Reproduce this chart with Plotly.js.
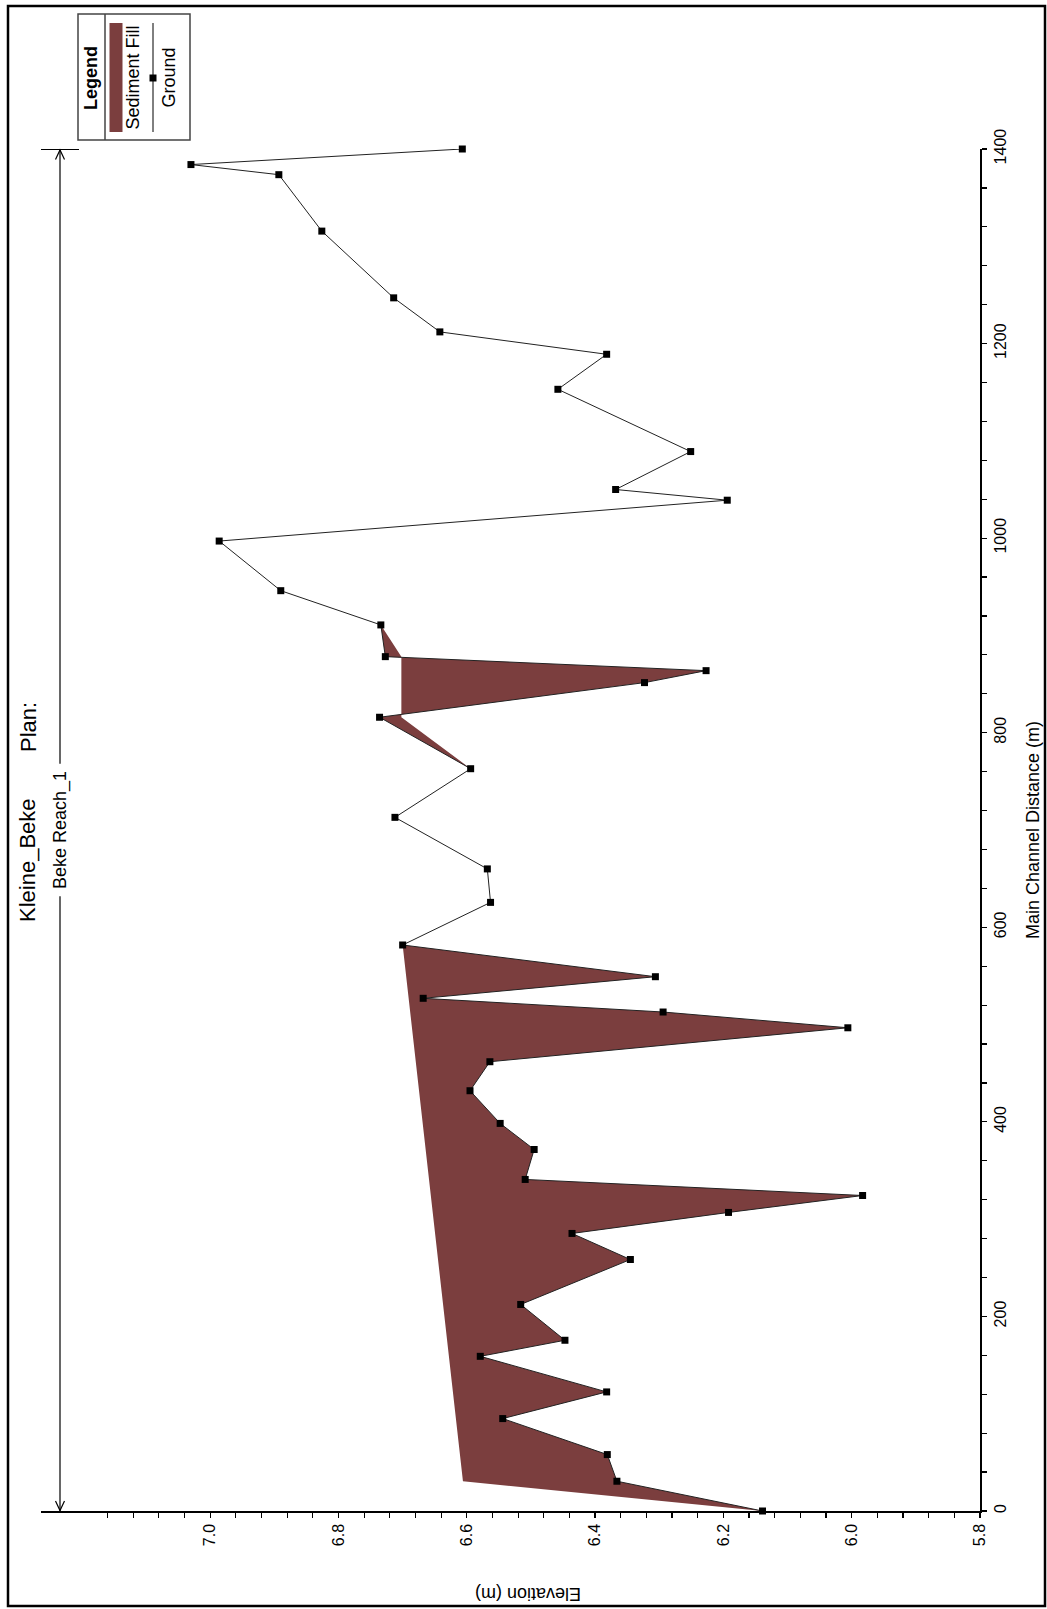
<!DOCTYPE html>
<html>
<head>
<meta charset="utf-8">
<script src="https://cdn.plot.ly/plotly-3.0.1.min.js"></script>
<style>
  html, body { margin: 0; padding: 0; background: #ffffff; }
  #chart { width: 1047px; height: 1609px; }
</style>
</head>
<body>
<div id="chart"></div>
<script>
// ---------------- DATA ----------------
// Main channel distance (m) of each cross section
const distance = [0, 30.6, 58, 95, 122.4, 159, 175.5, 212.3, 258.5, 285.3,
  306.9, 324.3, 340.8, 371.6, 398.4, 432, 461.8, 496.7, 512.9, 527,
  549.2, 581.8, 625.6, 660, 713, 763, 815.9, 851.5, 863.8, 878.2,
  910.8, 946, 997, 1039, 1050, 1089, 1153, 1189, 1212, 1247,
  1315.6, 1373.6, 1384, 1400];
// Ground (channel invert) elevation (m)
const groundElev = [6.139, 6.366, 6.381, 6.544, 6.382, 6.579, 6.447, 6.516, 6.345, 6.436,
  6.192, 5.983, 6.509, 6.495, 6.548, 6.595, 6.564, 6.006, 6.294, 6.668,
  6.306, 6.700, 6.563, 6.568, 6.712, 6.594, 6.736, 6.323, 6.227, 6.727,
  6.734, 6.890, 6.986, 6.194, 6.368, 6.251, 6.458, 6.382, 6.642, 6.714,
  6.826, 6.893, 7.030, 6.607];
// Top of the sediment fill (new bed), first deposit reach
const bedDist1 = [0, 30.6, 581.8];
const bedElev1 = [6.139, 6.606, 6.700];
// Top of the sediment fill (new bed), second deposit reach
const bedDist2 = [763, 815.9, 878.2, 910.8];
const bedElev2 = [6.594, 6.702, 6.702, 6.734];

// Axis ticks
const elevTicks = [7.0, 6.8, 6.6, 6.4, 6.2, 6.0, 5.8];
const elevTickText = ['7.0', '6.8', '6.6', '6.4', '6.2', '6.0', '5.8'];
const distTicks = [0, 200, 400, 600, 800, 1000, 1200, 1400];
const distTickText = ['0', '200', '400', '600', '800', '1000', '1200', '1400'];

// Text
const titleText = 'Kleine_Beke';
const planText = 'Plan:';
const reachName = 'Beke Reach_1';
const reachStart = 0;
const reachEnd = 1400;
const xTitle = 'Elevation (m)';
const yTitle = 'Main Channel Distance (m)';
const legendTitle = 'Legend';
const fillName = 'Sediment Fill';
const groundName = 'Ground';

// ---------------- LAYOUT GEOMETRY ----------------
const W = 1047, H = 1609;
const M = { l: 41, r: 67, t: 149, b: 98 };
const PW = W - M.l - M.r, PH = H - M.t - M.b;
const px = x => (x - M.l) / PW;          // pixel x -> paper x
const py = y => 1 - (y - M.t) / PH;      // pixel y -> paper y
const FONT = 'Liberation Sans, Arial, Helvetica, sans-serif';
const FILL = '#7b3e3e';

// minor elevation ticks
const elevMinor = [];
for (let i = 0; i <= 33; i++) elevMinor.push(+(7.16 - i * 0.04).toFixed(2));

// build fill polygons between the new bed line and the ground line
function fillPoly(bd, be) {
  const lo = bd[0] - 0.01, hi = bd[bd.length - 1] + 0.01;
  const gx = [], gy = [];
  for (let i = 0; i < distance.length; i++) {
    if (distance[i] >= lo && distance[i] <= hi) { gx.push(groundElev[i]); gy.push(distance[i]); }
  }
  return { x: be.concat(gx.reverse()), y: bd.concat(gy.reverse()) };
}
const p1 = fillPoly(bedDist1, bedElev1);
const p2 = fillPoly(bedDist2, bedElev2);

const traces = [
  { type: 'scatter', x: p1.x, y: p1.y, mode: 'lines', fill: 'toself', fillcolor: FILL,
    line: { width: 0, color: FILL }, hoverinfo: 'skip', showlegend: false },
  { type: 'scatter', x: p2.x, y: p2.y, mode: 'lines', fill: 'toself', fillcolor: FILL,
    line: { width: 0, color: FILL }, hoverinfo: 'skip', showlegend: false },
  { type: 'scatter', x: groundElev, y: distance, mode: 'lines+markers', name: groundName,
    line: { color: '#222222', width: 1 }, cliponaxis: false,
    marker: { symbol: 'square', size: 7, color: '#000' }, showlegend: false }
];

const gapHalf = 68; // gap around reach label (data units)
const reachMid = (reachStart + reachEnd) / 2;
const ax = px(60);
const shapes = [
  // outer frame
  { type: 'rect', xref: 'paper', yref: 'paper', x0: px(8), x1: px(1045), y0: py(6), y1: py(1606),
    line: { color: '#000', width: 2.5 } },
  // reach arrow line (two segments, gap for label)
  { type: 'line', xref: 'paper', yref: 'y', x0: ax, x1: ax, y0: reachStart, y1: reachMid - gapHalf,
    line: { color: '#000', width: 1.2 } },
  { type: 'line', xref: 'paper', yref: 'y', x0: ax, x1: ax, y0: reachMid + gapHalf, y1: reachEnd,
    line: { color: '#000', width: 1.2 } },
  // top cap
  { type: 'line', xref: 'paper', yref: 'paper', x0: px(41), x1: px(79), y0: py(149.5), y1: py(149.5),
    line: { color: '#000', width: 1.2 } },
  // top arrow head
  { type: 'path', xref: 'paper', yref: 'paper',
    path: `M ${px(55.5)} ${py(159.5)} L ${px(60)} ${py(150)} L ${px(64.5)} ${py(159.5)}`,
    line: { color: '#000', width: 1.2 } },
  // bottom arrow head
  { type: 'path', xref: 'paper', yref: 'paper',
    path: `M ${px(55.5)} ${py(1501)} L ${px(60)} ${py(1510.5)} L ${px(64.5)} ${py(1501)}`,
    line: { color: '#000', width: 1.2 } },
  // legend box
  { type: 'rect', xref: 'paper', yref: 'paper', x0: px(78), x1: px(190), y0: py(14), y1: py(140),
    line: { color: '#444', width: 1.5 } },
  { type: 'line', xref: 'paper', yref: 'paper', x0: px(105), x1: px(105), y0: py(14), y1: py(140),
    line: { color: '#444', width: 1.5 } },
  // legend swatch
  { type: 'rect', xref: 'paper', yref: 'paper', x0: px(109.5), x1: px(122.5), y0: py(23), y1: py(132),
    fillcolor: FILL, line: { width: 0 } },
  // legend ground line + marker
  { type: 'line', xref: 'paper', yref: 'paper', x0: px(153), x1: px(153), y0: py(23), y1: py(132),
    line: { color: '#000', width: 1 } },
  { type: 'rect', xref: 'paper', yref: 'paper', x0: px(149.5), x1: px(156.5), y0: py(74.5), y1: py(81.5),
    fillcolor: '#000', line: { width: 0 } }
];

const annotations = [
  { text: titleText, xref: 'paper', yref: 'paper', x: px(28), y: py(860), textangle: -90,
    showarrow: false, xanchor: 'center', yanchor: 'middle', font: { family: FONT, size: 22, color: '#000' } },
  { text: planText, xref: 'paper', yref: 'paper', x: px(28), y: py(727), textangle: -90,
    showarrow: false, xanchor: 'center', yanchor: 'middle', font: { family: FONT, size: 22, color: '#000' } },
  { text: reachName, xref: 'paper', yref: 'y', x: ax, y: reachMid, textangle: -90,
    showarrow: false, xanchor: 'center', yanchor: 'middle', font: { family: FONT, size: 18, color: '#000' } },
  { text: xTitle, xref: 'paper', yref: 'paper', x: px(528), y: py(1594), textangle: 180,
    showarrow: false, xanchor: 'center', yanchor: 'middle', font: { family: FONT, size: 18, color: '#000' } },
  { text: '<b>' + legendTitle + '</b>', xref: 'paper', yref: 'paper', x: px(91), y: py(78), textangle: -90,
    showarrow: false, xanchor: 'center', yanchor: 'middle', font: { family: FONT, size: 18, color: '#000' } },
  { text: fillName, xref: 'paper', yref: 'paper', x: px(132), y: py(77.5), textangle: -90,
    showarrow: false, xanchor: 'center', yanchor: 'middle', font: { family: FONT, size: 18, color: '#000' } },
  { text: groundName, xref: 'paper', yref: 'paper', x: px(168), y: py(77.5), textangle: -90,
    showarrow: false, xanchor: 'center', yanchor: 'middle', font: { family: FONT, size: 18, color: '#000' } }
];

const layout = {
  width: W, height: H,
  margin: M,
  paper_bgcolor: '#ffffff', plot_bgcolor: '#ffffff',
  font: { family: FONT, color: '#000' },
  showlegend: false,
  xaxis: {
    range: [5.8 + PW / 641.5, 5.8], autorange: false,
    showline: true, linecolor: '#000', linewidth: 1.5, mirror: false,
    showgrid: false, zeroline: false,
    ticks: 'outside', ticklen: 5, tickwidth: 1.2, tickcolor: '#000',
    tickmode: 'array', tickvals: elevTicks, ticktext: elevTickText,
    tickangle: -90, tickfont: { family: FONT, size: 16, color: '#000' },
    minor: { tickmode: 'array', tickvals: elevMinor, ticks: 'outside', ticklen: 5,
             tickwidth: 1.2, tickcolor: '#000', showgrid: false }
  },
  yaxis: {
    range: [0, 1400], autorange: false, side: 'right',
    showline: true, linecolor: '#000', linewidth: 1.5, mirror: false,
    showgrid: false, zeroline: false,
    ticks: 'outside', ticklen: 5, tickwidth: 1.2, tickcolor: '#000',
    tickmode: 'array', tickvals: distTicks, ticktext: distTickText,
    tickangle: -90, tickfont: { family: FONT, size: 16, color: '#000' },
    minor: { tickmode: 'linear', tick0: 0, dtick: 40, ticks: 'outside', ticklen: 5,
             tickwidth: 1.2, tickcolor: '#000', showgrid: false },
    title: { text: yTitle, font: { family: FONT, size: 18, color: '#000' }, standoff: 18 }
  },
  shapes: shapes,
  annotations: annotations
};

Plotly.newPlot('chart', traces, layout, { staticPlot: true, displayModeBar: false });
</script>
</body>
</html>
